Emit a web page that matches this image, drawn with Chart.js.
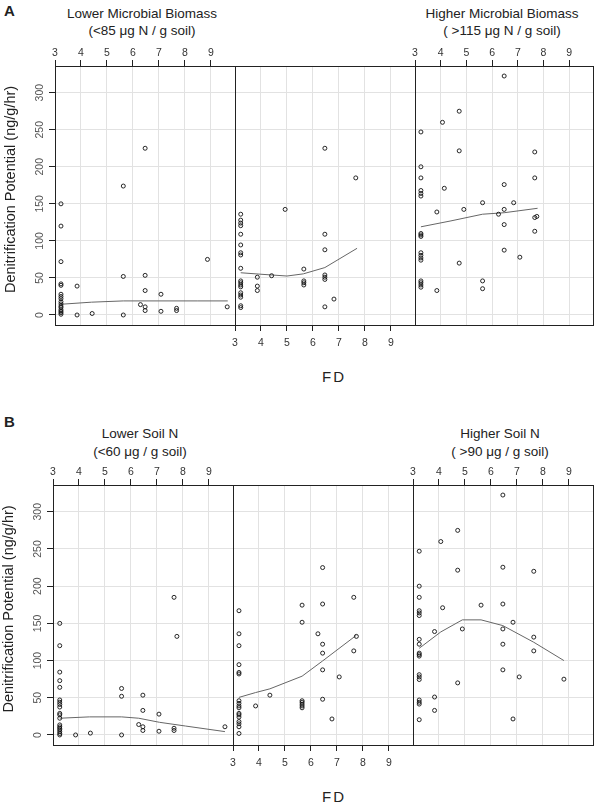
<!DOCTYPE html>
<html>
<head>
<meta charset="utf-8">
<script src="https://cdn.jsdelivr.net/npm/chart.js@4.4.1/dist/chart.umd.min.js"></script>
<style>
  body { margin: 0; background: #fff; width: 598px; height: 804px; position: relative; overflow: hidden;
         font-family: "Liberation Sans", Arial, sans-serif; color: #222; }
  canvas { position: absolute; left: 0; top: 0; }
  .t { position: absolute; transform: translate(-50%, -50%); white-space: nowrap; font-size: 13.5px; line-height: 1; }
  .fig { position: absolute; font-weight: bold; font-size: 15px; line-height: 1; transform: translateY(-50%); }
  .xlab { position: absolute; transform: translate(-50%, -50%); font-size: 15px; letter-spacing: 2px; }
</style>
</head>
<body>
<div class="fig" style="left:4px;top:10px">A</div>
<div class="t" style="left:142px;top:14px">Lower Microbial Biomass</div>
<div class="t" style="left:142px;top:31px">(&lt;85 μg N / g soil)</div>
<div class="t" style="left:502px;top:14px">Higher Microbial Biomass</div>
<div class="t" style="left:502px;top:31px">( &gt;115 μg N / g soil)</div>
<div class="xlab" style="left:334px;top:376px">FD</div>

<div class="fig" style="left:4px;top:421px">B</div>
<div class="t" style="left:140px;top:434px">Lower Soil N</div>
<div class="t" style="left:140px;top:452px">(&lt;60 μg / g soil)</div>
<div class="t" style="left:500px;top:434px">Higher Soil N</div>
<div class="t" style="left:500px;top:452px">( &gt;90 μg / g soil)</div>
<div class="xlab" style="left:334px;top:796px">FD</div>

<canvas id="a1" width="598" height="804"></canvas>
<canvas id="a2" width="598" height="804"></canvas>
<canvas id="a3" width="598" height="804"></canvas>
<canvas id="b1" width="598" height="804"></canvas>
<canvas id="b2" width="598" height="804"></canvas>
<canvas id="b3" width="598" height="804"></canvas>

<script>
// axis ticks
const fdTicks = [3, 4, 5, 6, 7, 8, 9];
const dpTicks = [0, 50, 100, 150, 200, 250, 300];

// A: microbial biomass groups
const lowBiomassFD = [3.23,3.23,3.23,3.23,3.23,3.23,3.23,3.23,3.23,3.23,3.23,3.23,3.23,3.23,3.23,3.23,
  3.85,3.85,4.43,5.63,5.63,5.63,6.29,6.47,6.47,6.47,6.47,6.47,7.08,7.08,7.68,7.68,8.87,9.63];
const lowBiomassDP = [150,120,72,42,40,28,25,22,18,15,12,10,7,5,3,1,
  39,0,2,174,52,0,14,225,53.5,33,11,6,28,5,9,6,75,11];
const lowBiomassFitFD = [3.23, 4.4, 5.63, 7.0, 8.5, 9.65];
const lowBiomassFitDP = [14.5, 17.3, 19, 19, 19, 19];

const midBiomassFD = [3.22,3.22,3.22,3.22,3.22,3.22,3.22,3.22,3.22,3.22,3.22,3.22,3.22,3.22,3.22,3.22,3.22,3.22,
  3.86,3.86,3.86,4.41,4.93,5.65,5.65,5.65,5.65,6.46,6.46,6.46,6.46,6.46,6.46,6.46,6.81,7.65];
const midBiomassDP = [136,128,124,120.5,109,94.5,84,81,63,46,43.5,40.5,38,30,27,24,12.5,10,
  51,39,33,53,142.5,62,46,43.5,40.5,225,109,88,54,51,48,11,21.5,185];
const midBiomassFitFD = [3.22, 4.0, 5.0, 5.63, 6.46, 7.7];
const midBiomassFitDP = [57, 55, 52.6, 55.5, 64, 90];

const highBiomassFD = [3.23,3.23,3.23,3.23,3.23,3.23,3.23,3.23,3.23,3.23,3.23,3.23,3.23,3.23,3.23,3.23,3.23,
  3.85,3.85,4.07,4.14,4.72,4.72,4.72,4.9,5.63,5.63,5.63,6.25,6.47,6.47,6.47,6.47,6.47,6.84,7.08,7.66,7.66,7.66,7.66,7.74];
const highBiomassDP = [247,200,185,168,164,160.5,110,108,106,84,80.5,77,74,46,43.5,40.5,37.5,
  139,33,260,171,275,221.5,70,142.5,151.5,46,35.5,136,322.5,176,142.5,122,87.5,151.5,78,220,185,131.5,113,133];
const highBiomassFitFD = [3.23, 4.4, 5.63, 6.47, 7.77];
const highBiomassFitDP = [119, 127, 136, 138, 144];

// B: soil N groups
const lowSoilNFD = [3.26,3.26,3.26,3.26,3.26,3.26,3.26,3.26,3.26,3.26,3.26,3.26,3.26,3.26,3.26,3.26,3.26,3.26,3.26,
  3.87,4.44,5.64,5.64,5.64,6.3,6.46,6.46,6.46,6.46,7.08,7.08,7.66,7.66,7.66,7.77,9.62];
const lowSoilNDP = [150,120,84.5,73,64,47,44,41,37.5,29,27,22.5,13.5,11,9,7,4.5,2,0,
  0,2.5,62.5,52,0,14,53.5,33,11,6,28,5,185,9,6,132.5,11];
const lowSoilNFitFD = [3.26, 4.4, 5.64, 6.3, 7.1, 8.1, 9.62];
const lowSoilNFitDP = [22.5, 24.3, 24.3, 22.5, 17, 12, 4.5];

const midSoilNFD = [3.23,3.23,3.23,3.23,3.23,3.23,3.23,3.23,3.23,3.23,3.23,3.23,3.23,3.23,3.23,3.23,3.23,
  3.87,4.42,5.66,5.66,5.66,5.66,5.66,5.66,5.66,6.27,6.45,6.45,6.45,6.45,6.45,6.45,6.81,7.09,7.65,7.65,7.75];
const midSoilNDP = [167,136,120,94.5,84,82,46,42.5,39,36.5,29,27,24,18,15,11,2,
  39,53.5,174.5,151.5,46,44,41.5,39,36.5,136,225,176,122,110,87.5,48,21.5,78,185,113,132.5];
const midSoilNFitFD = [3.23, 3.87, 4.42, 5.66, 6.45, 7.75];
const midSoilNFitDP = [50.5, 57, 62, 79, 99.5, 134];

const highSoilNFD = [3.24,3.24,3.24,3.24,3.24,3.24,3.24,3.24,3.24,3.24,3.24,3.24,3.24,3.24,3.24,3.24,3.24,3.24,
  3.83,3.83,3.83,4.07,4.14,4.72,4.72,4.72,4.9,5.62,6.46,6.46,6.46,6.46,6.46,6.46,6.85,6.85,7.09,7.65,7.65,7.65,8.81];
const highSoilNDP = [247,200,185,167,164,160.5,128.5,122,110,108,106,81,78,74.5,47,44,41.5,20.5,
  139,51,33,260,171,275,221.5,70,142.5,174.5,322.5,225.5,176,142.5,122,87.5,151.5,21.5,78,220,131.5,113,75];
const highSoilNFitFD = [3.24, 4.07, 4.9, 5.62, 6.46, 7.65, 8.81];
const highSoilNFitDP = [116.5, 138.5, 154.7, 154.7, 147, 124.6, 100];

const toXY = (xs, ys) => xs.map((x, i) => ({ x, y: ys[i] }));

const tickFont = { family: '"Liberation Sans Narrow", "Liberation Sans", Arial', size: 10.5 };

// full box around every panel
const panelBox = {
  id: 'panelBox',
  afterDraw(chart) {
    const { ctx, chartArea: a } = chart;
    ctx.save();
    ctx.strokeStyle = '#222';
    ctx.lineWidth = 1;
    ctx.strokeRect(Math.round(a.left) + 0.5, Math.round(a.top) + 0.5,
      Math.round(a.right - a.left), Math.round(a.bottom - a.top));
    ctx.restore();
  }
};

// y tick labels turned on their side, lattice style
const sideLabels = {
  id: 'sideLabels',
  afterDraw(chart, args, opts) {
    if (!opts.show) return;
    const s = chart.scales.y;
    const ctx = chart.ctx;
    ctx.save();
    ctx.fillStyle = '#555';
    ctx.font = `${tickFont.size}px ${tickFont.family}`;
    ctx.textAlign = 'center';
    ctx.textBaseline = 'middle';
    for (const v of dpTicks) {
      ctx.save();
      ctx.translate(s.right - 15, s.getPixelForValue(v));
      ctx.rotate(-Math.PI / 2);
      ctx.fillText(String(v), 0, 0);
      ctx.restore();
    }
    ctx.restore();
  }
};

function makePanel(id, box, xPos, showY, xs, ys, fitX, fitY) {
  const [L, T, R, B] = box;
  const yW = showY ? 55 : 0;
  const topH = xPos === 'top' ? 22 : 0;
  const botH = xPos === 'bottom' ? 24 : 0;

  return new Chart(document.getElementById(id), {
    type: 'scatter',
    data: {
      datasets: [
        {
          data: toXY(xs, ys),
          pointRadius: 2,
          pointBorderWidth: 0.9,
          pointBorderColor: '#111',
          pointBackgroundColor: 'rgba(0,0,0,0)',
        },
        {
          data: toXY(fitX, fitY),
          showLine: true,
          borderColor: '#666',
          borderWidth: 1,
          pointRadius: 0,
          tension: 0,
        },
      ],
    },
    options: {
      responsive: false,
      animation: false,
      events: [],
      layout: { padding: { left: L - yW, right: 598 - R, top: T - topH, bottom: 804 - B - botH } },
      plugins: {
        legend: { display: false },
        tooltip: { enabled: false },
        sideLabels: { show: showY },
      },
      scales: {
        x: {
          type: 'linear',
          position: xPos,
          min: 3,
          max: 9.93,
          afterBuildTicks: (s) => { s.ticks = fdTicks.map((v) => ({ value: v })); },
          afterFit: (s) => { s.height = xPos === 'top' ? topH : botH; },
          border: { display: false },
          grid: { color: '#e2e2e2', lineWidth: 1, tickColor: '#222', tickLength: 6, drawTicks: true },
          ticks: { font: tickFont, color: '#333', padding: xPos === 'top' ? 1 : 6, maxRotation: 0, autoSkip: false },
        },
        y: {
          type: 'linear',
          position: 'left',
          min: -13.5,
          max: 336,
          afterBuildTicks: (s) => { s.ticks = dpTicks.map((v) => ({ value: v })); },
          afterFit: (s) => { s.width = yW; },
          border: { display: false },
          grid: { color: '#e2e2e2', lineWidth: 1, tickColor: '#222', tickLength: 6, drawTicks: showY },
          ticks: { display: false },
          title: {
            display: showY,
            text: '   Denitrification Potential (ng/g/hr)',
            color: '#222',
            font: { family: '"Liberation Sans", Arial', size: 14.5 },
            padding: { top: 2, bottom: 0 },
          },
        },
      },
    },
    plugins: [panelBox, sideLabels],
  });
}

// figure A
makePanel('a1', [55, 66, 235, 325], 'top', true, lowBiomassFD, lowBiomassDP, lowBiomassFitFD, lowBiomassFitDP);
makePanel('a2', [235, 66, 415, 325], 'bottom', false, midBiomassFD, midBiomassDP, midBiomassFitFD, midBiomassFitDP);
makePanel('a3', [415, 66, 594, 325], 'top', false, highBiomassFD, highBiomassDP, highBiomassFitFD, highBiomassFitDP);

// figure B
makePanel('b1', [53, 485, 233, 745], 'top', true, lowSoilNFD, lowSoilNDP, lowSoilNFitFD, lowSoilNFitDP);
makePanel('b2', [233, 485, 413, 745], 'bottom', false, midSoilNFD, midSoilNDP, midSoilNFitFD, midSoilNFitDP);
makePanel('b3', [413, 485, 593, 745], 'top', false, highSoilNFD, highSoilNDP, highSoilNFitFD, highSoilNFitDP);
</script>
</body>
</html>
